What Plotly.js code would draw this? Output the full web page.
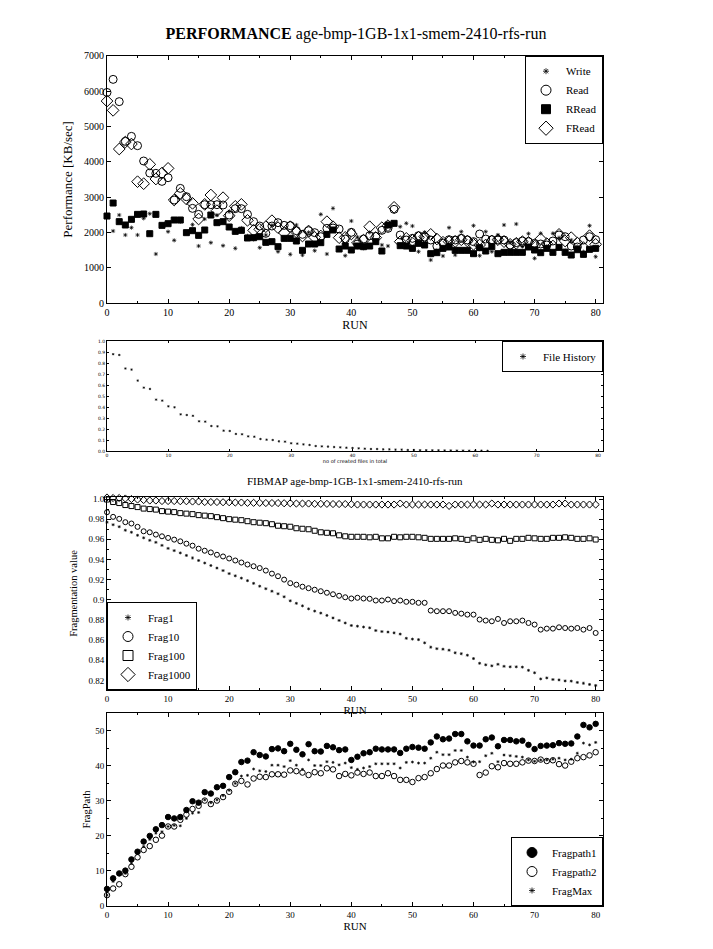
<!DOCTYPE html>
<html><head><meta charset="utf-8">
<script src="https://cdn.plot.ly/plotly-3.0.1.min.js"></script>
<style>html,body{margin:0;padding:0;background:#fff}#chart{width:713px;height:949px}</style>
</head><body><div id="chart"></div>
<script>
// ---------- DATA ----------
const RUN_COUNT = 81; // runs 0..80
const writeVals = [2450,2038,2490,1925,2132,1925,2396,2528,1387,2200,2019,1774,2300,2000,2217,1613,2377,1708,2490,1623,2585,1547,2123,1900,1800,1566,1925,2200,1453,1850,1377,2208,1358,2000,1481,2509,1387,2679,1550,1340,2321,1868,1550,2000,1700,1642,1613,2250,2160,2255,2179,1453,2000,1217,1500,1330,2132,1358,2019,1500,2189,1340,2019,1453,1925,2208,1700,2236,1600,1962,1264,1972,1600,1972,1849,1500,1783,1600,1450,2189,1311];
const readVals = [5960,6330,5700,4575,4717,4453,4019,3679,3670,3443,3547,2915,3245,3009,2679,2509,2783,2783,2783,2774,2490,2670,2670,2509,2302,2179,1972,2179,2274,2198,2189,2047,1943,2047,1991,1877,2113,2123,2094,1811,2000,1670,1811,1906,1887,2057,2113,2651,1925,1783,1830,1906,1868,1783,1613,1698,1792,1783,1830,1783,1736,1953,1811,1792,1783,1783,1642,1708,1755,1736,1689,1670,1642,1755,1925,1877,1613,1585,1783,1877,1792];
const rreadVals = [2462,2830,2302,2208,2368,2509,2519,1962,2509,2198,2245,2349,2349,1991,2047,1915,2066,2490,2274,2302,2151,2028,2057,1840,1849,1877,1717,1736,1594,1830,1830,1755,1491,1670,1670,1708,1943,2066,1528,1613,1500,1613,1594,1613,1736,1472,2208,2255,1623,1613,1547,1689,1642,1396,1425,1547,1585,1491,1491,1491,1396,1566,1472,1594,1396,1434,1434,1434,1434,1585,1500,1425,1547,1434,1575,1434,1358,1509,1377,1519,1547];
const freadVals = [5717,5453,4358,4556,4500,3434,3377,3925,3509,3679,3811,2915,3104,2943,2821,2377,2792,3057,2613,2981,2472,2736,2792,2340,2057,2085,2160,2330,2132,1991,2160,2010,1896,2038,1858,1896,2302,2160,1849,1858,1953,1700,1780,2160,1850,2132,2189,2708,1736,1830,1774,1858,1877,1943,1811,1720,1736,1740,1790,1755,1660,1642,1642,1755,1792,1736,1660,1690,1736,1717,1613,1811,1680,1613,1943,1755,1849,1698,1566,1906,1660];

// file history: created files 1..62
const historyVals = [0.88,0.873,0.75,0.74,0.64,0.576,0.564,0.467,0.458,0.406,0.397,0.333,0.327,0.32,0.27,0.267,0.227,0.224,0.185,0.182,0.155,0.152,0.133,0.13,0.109,0.103,0.1,0.088,0.085,0.07,0.067,0.06,0.055,0.045,0.042,0.04,0.036,0.033,0.03,0.027,0.024,0.021,0.018,0.018,0.015,0.015,0.012,0.012,0.009,0.009,0.007,0.007,0.006,0.006,0.005,0.005,0.004,0.004,0.003,0.003,0.003,0.002];

const frag1 = [0.977,0.9745,0.9725,0.969,0.967,0.964,0.9615,0.959,0.957,0.954,0.951,0.9488,0.9465,0.944,0.9415,0.939,0.9365,0.934,0.9315,0.929,0.926,0.9238,0.9215,0.919,0.9163,0.9135,0.911,0.9085,0.906,0.903,0.899,0.8965,0.894,0.891,0.8888,0.8868,0.8845,0.882,0.8795,0.877,0.8745,0.8738,0.873,0.8722,0.8695,0.8685,0.868,0.8672,0.866,0.8618,0.861,0.8605,0.8573,0.853,0.8515,0.851,0.85,0.8474,0.8465,0.845,0.8417,0.837,0.8355,0.8345,0.836,0.834,0.8335,0.8335,0.8332,0.83,0.8276,0.8215,0.8225,0.8209,0.8205,0.8195,0.8193,0.818,0.8172,0.816,0.815];
const frag10 = [0.9869,0.9823,0.9803,0.977,0.9757,0.9724,0.968,0.967,0.9647,0.963,0.9614,0.9597,0.958,0.9557,0.9537,0.9507,0.9487,0.947,0.9447,0.943,0.941,0.939,0.937,0.935,0.9333,0.9315,0.929,0.926,0.9234,0.92,0.9165,0.915,0.913,0.9115,0.91,0.9085,0.907,0.9055,0.904,0.9025,0.9013,0.902,0.9013,0.901,0.8993,0.8993,0.9003,0.8987,0.8993,0.898,0.898,0.897,0.897,0.8893,0.8887,0.8887,0.8887,0.887,0.8863,0.8853,0.8853,0.8804,0.8794,0.8787,0.881,0.877,0.8787,0.8787,0.8794,0.877,0.8754,0.8704,0.8714,0.8714,0.8727,0.872,0.8714,0.872,0.8704,0.872,0.8671];
const frag100 = [0.9995,0.997,0.996,0.994,0.993,0.992,0.9905,0.99,0.9895,0.988,0.9875,0.987,0.986,0.9855,0.985,0.984,0.9835,0.983,0.982,0.981,0.98,0.9795,0.979,0.978,0.977,0.9765,0.976,0.975,0.9735,0.973,0.9725,0.971,0.9705,0.97,0.9685,0.967,0.9665,0.966,0.964,0.963,0.9625,0.9625,0.9625,0.962,0.9625,0.961,0.961,0.9625,0.962,0.9625,0.9625,0.962,0.9615,0.9605,0.9605,0.9605,0.9605,0.961,0.9605,0.9595,0.961,0.9595,0.9605,0.9595,0.959,0.9605,0.9585,0.9605,0.9605,0.9615,0.961,0.9605,0.9605,0.9615,0.9615,0.962,0.9615,0.9605,0.9605,0.961,0.9598];
const frag1000 = [1.0015,1.001,1.001,1.0005,1.0,0.9995,0.999,0.9985,0.9985,0.998,0.998,0.998,0.9978,0.9978,0.9975,0.9975,0.997,0.997,0.997,0.9968,0.9968,0.9965,0.9965,0.9962,0.9962,0.9962,0.996,0.996,0.996,0.9958,0.9958,0.9955,0.9955,0.9955,0.9952,0.9952,0.9952,0.995,0.995,0.995,0.9948,0.9945,0.9945,0.9945,0.9945,0.9945,0.9945,0.9945,0.9955,0.9945,0.9945,0.9945,0.9945,0.9945,0.9945,0.9945,0.9932,0.9945,0.9945,0.9945,0.9945,0.9945,0.9945,0.9955,0.9945,0.9945,0.9945,0.9945,0.9945,0.9945,0.9945,0.9945,0.9945,0.9945,0.9955,0.9955,0.9945,0.9945,0.9945,0.9945,0.9945];

const fragpath1 = [4.86,7.9,9.3,10.1,13.3,15.5,18.4,20,21.9,23.1,25.4,25,25.4,27.4,29.9,29.5,32.5,32.1,33.9,34.3,36.8,38.2,41.1,41.5,43.9,43.1,42.7,44.8,45,44.2,46.3,44.6,43.3,46.2,44.2,44.1,45.7,45.3,44.5,44.7,41.7,42.6,43.6,43.9,44.9,44.7,44.7,44.7,43.7,44.9,45.4,45.2,44.9,46.7,48.4,47.6,47.8,49.1,49.1,47,45.8,45.8,47.6,48.1,45.6,47.4,47.4,47,47.2,46,44.8,45.7,45.8,45.9,46.5,46.3,46.4,48.4,51.7,51,52];
const fragpath2 = [3.1,5,6.2,9.1,11.2,13.9,16,17.1,18.9,20.1,22.7,22.7,24.6,26.1,27.7,28.6,30.1,29.1,30.1,31.1,32.6,34.9,35.7,34.7,36.4,36.9,36.8,37.6,37.6,37.5,38.7,38.5,38.1,37.4,38.2,37.9,39.3,39,37.1,37.7,37.3,38.1,37.7,38.1,37.1,37.1,37.9,37.1,36,36,35.4,36.5,36.8,37.9,39.1,40.1,40.1,41,41.4,41,40.6,37.4,38.1,39.9,39.6,40.8,40.6,40.6,41,41.5,41.4,41.8,41.4,41.6,40.5,40.1,41.2,42.2,42.5,43,43.9];
const fragmax = [3.1,7,8.9,9.3,12.2,15,17,19,20.8,21.2,22.7,23,22.9,25,26.5,26.7,30.3,29.5,30.3,31.5,33,35,37.1,37.3,39.1,38.6,38.4,40.2,40.2,39.8,41.5,40.2,39,41.7,40.1,40.1,41.2,41,40.3,40.8,39.5,39,39.4,39.8,40.6,40.6,40.6,40.6,39.4,41,41.1,40.8,40.8,42.2,43.9,43.2,43.2,44.4,44.4,42.5,41.1,41.2,42.9,43.6,41.2,43.1,42.9,42.7,42.5,41.7,41.3,41.7,41.7,41.9,42.2,41.7,41.9,43.6,46.5,46,46.7];

const perfTitle = '<b>PERFORMANCE</b> age-bmp-1GB-1x1-smem-2410-rfs-run';
const fibTitle = 'FIBMAP age-bmp-1GB-1x1-smem-2410-rfs-run';
const fragTickVals = [0.82,0.84,0.86,0.88,0.9,0.92,0.94,0.96,0.98,1.0];
const fragTickText = ['0.82','0.84','0.86','0.88','0.9','0.92','0.94','0.96','0.98','1.0'];

// ---------- BUILD ----------
const runs = []; for (let i = 0; i < RUN_COUNT; i++) runs.push(i);
const created = historyVals.map((_, i) => i + 1);
const SERIF = '"Liberation Serif", "Times New Roman", Times, serif';
const SANS = '"DejaVu Sans", sans-serif';
const K = 'black';

function pts(x, y, xa, ya, sym, size, name, lw) {
  return {
    type: 'scatter', mode: 'markers', x: x, y: y, xaxis: xa, yaxis: ya, name: name,
    cliponaxis: false, showlegend: false, hoverinfo: 'x+y',
    marker: {symbol: sym, size: size, color: K, line: {color: K, width: lw == null ? 1 : lw}}
  };
}
function leg(name, xa, ya, sym, size, legendId, lw) {
  return {type: 'scatter', mode: 'markers', x: [null], y: [null], xaxis: xa, yaxis: ya,
    name: name, legend: legendId, showlegend: true, hoverinfo: 'skip',
    marker: {symbol: sym, size: size, color: K, line: {color: K, width: lw == null ? 1 : lw}}};
}

const traces = [
  pts(runs, writeVals, 'x', 'y', 'asterisk', 3.5, 'Write', 0.7),
  pts(runs, readVals, 'x', 'y', 'circle-open', 8, 'Read'),
  pts(runs, rreadVals, 'x', 'y', 'square', 6, 'RRead'),
  pts(runs, freadVals, 'x', 'y', 'diamond-open', 9, 'FRead'),
  leg('Write', 'x', 'y', 'asterisk', 5, 'legend', 0.8),
  leg('Read', 'x', 'y', 'circle-open', 10, 'legend'),
  leg('RRead', 'x', 'y', 'square', 9, 'legend'),
  leg('FRead', 'x', 'y', 'diamond-open', 11, 'legend'),

  pts(created, historyVals, 'x2', 'y2', 'asterisk', 2, 'File History', 0.6),
  leg('File History', 'x2', 'y2', 'asterisk', 5, 'legend2', 0.8),

  pts(runs, frag1, 'x3', 'y3', 'asterisk', 2.5, 'Frag1', 0.7),
  pts(runs, frag10, 'x3', 'y3', 'circle-open', 5, 'Frag10'),
  pts(runs, frag100, 'x3', 'y3', 'square-open', 5, 'Frag100'),
  pts(runs, frag1000, 'x3', 'y3', 'diamond-open', 5.5, 'Frag1000'),
  leg('Frag1', 'x3', 'y3', 'asterisk', 5, 'legend3', 0.8),
  leg('Frag10', 'x3', 'y3', 'circle-open', 10, 'legend3'),
  leg('Frag100', 'x3', 'y3', 'square-open', 10, 'legend3'),
  leg('Frag1000', 'x3', 'y3', 'diamond-open', 11, 'legend3'),

  pts(runs, fragpath1, 'x4', 'y4', 'circle', 5.5, 'Fragpath1'),
  pts(runs, fragpath2, 'x4', 'y4', 'circle-open', 5.5, 'Fragpath2'),
  pts(runs, fragmax, 'x4', 'y4', 'asterisk', 2.5, 'FragMax', 0.7),
  leg('Fragpath1', 'x4', 'y4', 'circle', 10, 'legend4'),
  leg('Fragpath2', 'x4', 'y4', 'circle-open', 10, 'legend4'),
  leg('FragMax', 'x4', 'y4', 'asterisk', 5, 'legend4', 0.8)
];

const XD = [107/713, 603/713];
function ax(extra) {
  return Object.assign({
    showline: true, linecolor: K, linewidth: 1, mirror: 'ticks',
    ticks: 'inside', ticklen: 4, tickcolor: K, tickwidth: 1,
    showgrid: false, zeroline: false, fixedrange: true,
    tickfont: {family: SERIF, size: 10, color: K}
  }, extra);
}
function legendBox(x, y, xa, ya, size) {
  return {x: x, y: y, xanchor: xa, yanchor: ya, xref: 'paper', yref: 'paper',
    bgcolor: 'white', bordercolor: K, borderwidth: 1,
    font: {family: SERIF, size: size, color: K}, itemsizing: 'trace', tracegroupgap: 0, itemwidth: 30};
}

const layout = {
  width: 713, height: 949,
  margin: {l: 0, r: 0, t: 0, b: 0},
  paper_bgcolor: 'white', plot_bgcolor: 'white',
  font: {family: SERIF, color: K},
  title: {text: perfTitle, font: {family: SERIF, size: 16, color: K}, x: 356/713, xanchor: 'center', y: 1 - 33/949, yanchor: 'middle', xref: 'paper', yref: 'paper'},
  xaxis: ax({domain: XD, anchor: 'y', range: [0, 81.2], dtick: 10, tick0: 0, minor: {dtick: 5, ticks: 'inside', ticklen: 2, tickcolor: K},
    title: {text: 'RUN', font: {family: SERIF, size: 12, color: K}, standoff: 0}}),
  yaxis: ax({domain: [1 - 303/949, 1 - 55.7/949], anchor: 'x', range: [0, 7000], dtick: 1000,
    title: {text: 'Performance [KB/sec]', font: {family: SERIF, size: 13, color: K}, standoff: 8}}),

  xaxis2: ax({domain: XD, anchor: 'y2', range: [0, 80.8], dtick: 10, ticklen: 2, tickfont: {family: SANS, size: 4.5, color: K},
    title: {text: 'no of created files in total', font: {family: SANS, size: 5, color: K}, standoff: 0}}),
  yaxis2: ax({domain: [1 - 451/949, 1 - 341/949], anchor: 'x2', range: [0, 1.0], dtick: 0.1, tickformat: '.1f', ticklen: 2, tickfont: {family: SANS, size: 4.5, color: K}}),

  xaxis3: ax({domain: XD, anchor: 'y3', range: [0, 81.2], dtick: 10, tick0: 0, minor: {dtick: 5, ticks: 'inside', ticklen: 2, tickcolor: K}, tickfont: {family: SERIF, size: 9, color: K},
    title: {text: 'RUN', font: {family: SERIF, size: 11, color: K}, standoff: 0}}),
  yaxis3: ax({domain: [1 - 690/949, 1 - 497/949], anchor: 'x3', range: [0.8105, 1.002], tickvals: fragTickVals, ticktext: fragTickText,
    minor: {dtick: 0.01, tick0: 0.8, ticks: 'inside', ticklen: 2, tickcolor: K}, tickfont: {family: SERIF, size: 9, color: K},
    title: {text: 'Fragmentation value', font: {family: SERIF, size: 10.5, color: K}, standoff: 8}}),

  xaxis4: ax({domain: XD, anchor: 'y4', range: [0, 81.2], dtick: 10, tick0: 0, minor: {dtick: 5, ticks: 'inside', ticklen: 2, tickcolor: K}, tickfont: {family: SERIF, size: 9, color: K},
    title: {text: 'RUN', font: {family: SERIF, size: 11, color: K}, standoff: 0}}),
  yaxis4: ax({domain: [1 - 906/949, 1 - 713/949], anchor: 'x4', range: [0, 55.1], dtick: 10,
    minor: {dtick: 5, ticks: 'inside', ticklen: 2, tickcolor: K}, tickfont: {family: SERIF, size: 9, color: K},
    title: {text: 'FragPath', font: {family: SERIF, size: 10.5, color: K}, standoff: 2}}),

  legend: legendBox(603/713, 1 - 55.7/949, 'right', 'top', 11),
  legend2: legendBox(603/713, 1 - 341/949, 'right', 'top', 11),
  legend3: legendBox(107/713, 1 - 690/949, 'left', 'bottom', 11),
  legend4: legendBox(603/713, 1 - 906/949, 'right', 'bottom', 11),

  annotations: [
    {text: fibTitle, xref: 'paper', yref: 'paper', x: 355/713, y: 1 - 481/949, xanchor: 'center', yanchor: 'middle', showarrow: false,
     font: {family: SERIF, size: 11, color: K}}
  ]
};

Plotly.newPlot('chart', traces, layout, {displayModeBar: false, staticPlot: true});
</script>
</body></html>
